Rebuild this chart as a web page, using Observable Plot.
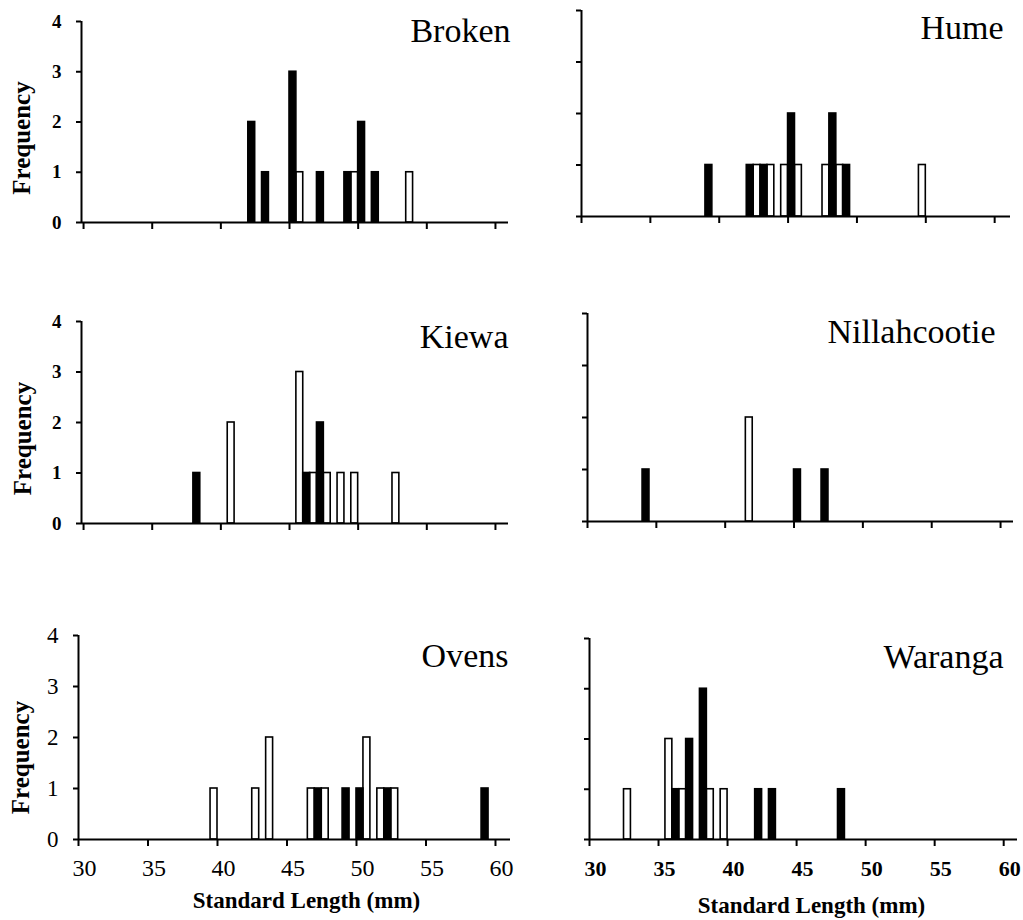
<!DOCTYPE html>
<html><head><meta charset="utf-8">
<script src="https://cdn.jsdelivr.net/npm/d3@7"></script>
<script src="https://cdn.jsdelivr.net/npm/@observablehq/plot@0.6"></script>
<style>
html,body{margin:0;padding:0;background:#fff;}
#chart{position:relative;width:1023px;height:920px;overflow:hidden;background:#fff;}
#chart svg{position:absolute;overflow:visible;}
</style></head><body><div id="chart"></div>
<script>
// ---- data ----
const xTicks = [30, 35, 40, 45, 50, 55, 60];
const yTicks = [0, 1, 2, 3, 4];
const xTitle = "Standard Length (mm)";
const yTitle = "Frequency";
const sites = ["Broken", "Hume", "Kiewa", "Nillahcootie", "Ovens", "Waranga"];
// [standard length bin (mm), frequency]
const brokenBlack = [[42,2],[43,1],[45,3],[47,1],[49,1],[50,2],[51,1]];
const brokenWhite = [[45,1],[49,1],[53,1]];
const humeBlack = [[39,1],[42,1],[43,1],[45,2],[48,2],[49,1]];
const humeWhite = [[42,1],[43,1],[44,1],[45,1],[47,1],[48,1],[54,1]];
const kiewaBlack = [[38,1],[46,1],[47,2]];
const kiewaWhite = [[40,2],[45,3],[46,1],[47,1],[48,1],[49,1],[52,1]];
const nillahBlack = [[34,1],[45,1],[47,1]];
const nillahWhite = [[41,2]];
const ovensBlack = [[47,1],[49,1],[50,1],[52,1],[59,1]];
const ovensWhite = [[39,1],[42,1],[43,2],[46,1],[47,1],[50,2],[51,1],[52,1]];
const warangaBlack = [[36,1],[37,2],[38,3],[42,1],[43,1],[48,1]];
const warangaWhite = [[32,1],[35,2],[36,1],[38,1],[39,1]];

// ---- layout ----
const FONT = "Liberation Serif";
const panels = [
  {site: sites[0], black: brokenBlack, white: brokenWhite, box: [0, 0, 512, 260], frame: [81, 508, 21, 222], xDomain: [29.85, 60.95],
   yLab: {size: 19, weight: "bold", pad: 20}, yTitle: {dx: -60, dy: 16, size: 25, weight: "bold"}, title: {dx: 2, dy: 10}},
  {site: sites[1], black: humeBlack, white: humeWhite, box: [512, 0, 511, 260], frame: [581, 1010, 10, 216], xDomain: [30, 61.15],
   title: {dx: -7, dy: 18}},
  {site: sites[2], black: kiewaBlack, white: kiewaWhite, box: [0, 290, 512, 260], frame: [81, 508, 321, 523], xDomain: [29.85, 60.95],
   yLab: {size: 19, weight: "bold", pad: 20}, yTitle: {dx: -58.5, dy: 16, size: 25, weight: "bold"}, title: {dx: 0, dy: 16}},
  {site: sites[3], black: nillahBlack, white: nillahWhite, box: [512, 290, 511, 260], frame: [587, 1013, 313, 521], xDomain: [30, 60.94],
   title: {dx: -18, dy: 19}},
  {site: sites[4], black: ovensBlack, white: ovensWhite, box: [0, 610, 512, 310], frame: [78, 510, 635, 839], xDomain: [30, 61.08],
   yLab: {size: 23, weight: "normal", pad: 20}, yTitle: {dx: -58, dy: 20, size: 25, weight: "bold"}, title: {dx: -2, dy: 21},
   xLab: {size: 24, weight: "normal", dy: 29, dx: 6}, xTitle: {dx: 12, dy: 61, size: 23}},
  {site: sites[5], black: warangaBlack, white: warangaWhite, box: [512, 610, 511, 310], frame: [589, 1017, 638, 839], xDomain: [30, 61.0],
   title: {dx: -14, dy: 19},
   xLab: {size: 22, weight: "bold", dy: 29, dx: 6}, xTitle: {dx: 8, dy: 66, size: 23}}
];

const chart = document.getElementById("chart");

function makePanel(p) {
  const [left, top, w, h] = p.box;
  const [fl, fr, ft, fb] = p.frame;
  const xmin = p.xDomain[0];
  const marks = [
    Plot.rect(p.white, {x1: d => d[0] + 0.5, x2: d => d[0] + 1, y1: 0, y2: d => d[1], fill: "white", stroke: "black", strokeWidth: 1.6}),
    Plot.rect(p.black, {x1: d => d[0], x2: d => d[0] + 0.5, y1: 0, y2: d => d[1], fill: "black", stroke: "black", strokeWidth: 1.6}),
    Plot.ruleY([0], {stroke: "black", strokeWidth: 2}),
    Plot.ruleX([xmin], {y1: 0, y2: 4, stroke: "black", strokeWidth: 2}),
    Plot.ruleY(yTicks, {x1: xmin, x2: xmin, insetRight: 5, stroke: "black", strokeWidth: 2}),
    Plot.ruleX(xTicks, {y1: 0, y2: 0, insetTop: 7, stroke: "black", strokeWidth: 2}),
    Plot.text([p.site], {text: d => d, frameAnchor: "top-right", textAnchor: "end", lineAnchor: "middle",
      fontFamily: FONT, fontSize: 34, fill: "black", dx: p.title.dx, dy: p.title.dy})
  ];
  if (p.yLab) {
    marks.push(Plot.text(yTicks, {x: xmin, y: d => d, text: d => String(d), textAnchor: "end", lineAnchor: "middle",
      dx: -p.yLab.pad, fontFamily: FONT, fontSize: p.yLab.size, fontWeight: p.yLab.weight, fill: "black"}));
    marks.push(Plot.text([yTitle], {text: d => d, frameAnchor: "left", rotate: -90, textAnchor: "middle", lineAnchor: "middle",
      fontFamily: FONT, fontSize: p.yTitle.size, fontWeight: p.yTitle.weight, fill: "black", dx: p.yTitle.dx, dy: p.yTitle.dy}));
  }
  if (p.xLab) {
    marks.push(Plot.text(xTicks, {x: d => d, y: 0, text: d => String(d), textAnchor: "middle", lineAnchor: "middle",
      dx: p.xLab.dx, dy: p.xLab.dy, fontFamily: FONT, fontSize: p.xLab.size, fontWeight: p.xLab.weight, fill: "black"}));
    marks.push(Plot.text([xTitle], {text: d => d, frameAnchor: "bottom", textAnchor: "middle", lineAnchor: "middle",
      fontFamily: FONT, fontSize: p.xTitle.size, fontWeight: "bold", fill: "black", dx: p.xTitle.dx, dy: p.xTitle.dy}));
  }
  const svg = Plot.plot({
    width: w, height: h,
    marginLeft: fl - left, marginRight: left + w - fr,
    marginTop: ft - top, marginBottom: top + h - fb,
    x: {domain: p.xDomain, axis: null},
    y: {domain: [0, 4], axis: null},
    style: {fontFamily: FONT, background: "transparent", overflow: "visible", color: "black"},
    marks
  });
  svg.style.left = left + "px";
  svg.style.top = top + "px";
  chart.appendChild(svg);
}
panels.forEach(makePanel);
</script>
</body></html>
